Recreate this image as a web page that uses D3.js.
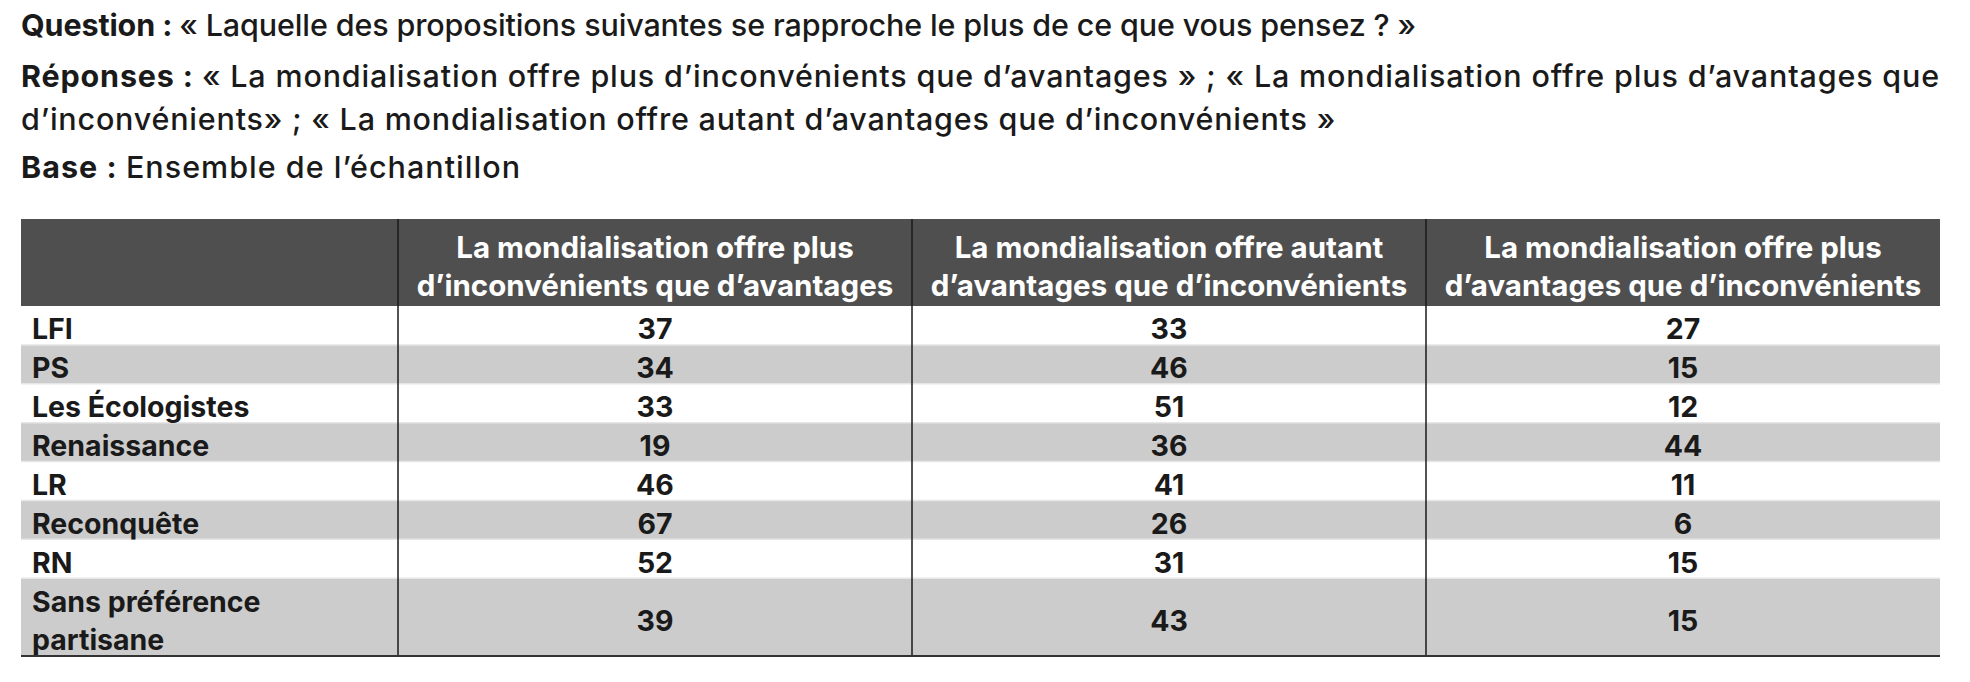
<!DOCTYPE html>
<html>
<head>
<meta charset="utf-8">
<script src="https://cdn.jsdelivr.net/npm/d3@7"></script>
<style>
  body { margin: 0; background: #fff; }
  svg { display: block; font-family: Inter, "Noto Sans", sans-serif; }
</style>
</head>
<body>
<div id="chart"></div>
<script>
// survey rows (parties) and answer columns
const rowLabels = [
  'LFI', 'PS', 'Les Écologistes', 'Renaissance', 'LR',
  'Reconquête', 'RN', 'Sans préférence\npartisane'
];
const colLabels = [
  'La mondialisation offre plus\nd’inconvénients que d’avantages',
  'La mondialisation offre autant\nd’avantages que d’inconvénients',
  'La mondialisation offre plus\nd’avantages que d’inconvénients'
];
const plusInconvenients = [37, 34, 33, 19, 46, 67, 52, 39];
const autantAvantages   = [33, 46, 51, 36, 41, 26, 31, 43];
const plusAvantages     = [27, 15, 12, 44, 11, 6, 15, 15];

// header text: [bold part, regular part] per line
const introLines = [
  ['Question : ', '« Laquelle des propositions suivantes se rapproche le plus de ce que vous pensez ? »'],
  ['Réponses : ', '« La mondialisation offre plus d’inconvénients que d’avantages » ; « La mondialisation offre plus d’avantages que'],
  ['', 'd’inconvénients» ; « La mondialisation offre autant d’avantages que d’inconvénients »'],
  ['Base : ', 'Ensemble de l’échantillon']
];

const W = 1970, H = 682;
const tableLeft = 21, tableRight = 1940, labelColRight = 398;
const headTop = 219, headBottom = 306, tableBottom = 656;
const lineGap = 38.5;

const series = [plusInconvenients, autantAvantages, plusAvantages];

const svg = d3.select('#chart')
  .append('svg')
    .attr('width', W)
    .attr('height', H);

// intro text, each line fitted to the width it has in the source layout
const introY = [36, 87, 130, 178];
const introEnd = [1416, 1940, 1336, 521];
svg.append('g')
  .selectAll('text')
  .data(introLines)
  .enter().append('text')
    .attr('x', tableLeft)
    .attr('y', (d, i) => introY[i])
    .attr('font-size', 30.5)
    .attr('fill', '#1a1a1a')
    .each(function (d, i) {
      const t = d3.select(this);
      if (d[0]) t.append('tspan').attr('font-weight', 700).text(d[0]);
      t.append('tspan').attr('font-weight', 500).text(d[1]);
      const len = this.getComputedTextLength();
      const chars = (d[0] + d[1]).length;
      t.attr('letter-spacing', (introEnd[i] - tableLeft - len) / chars);
    });

// scales
const x = d3.scaleBand()
  .domain(d3.range(colLabels.length))
  .range([labelColRight, tableRight]);

const units = rowLabels.map(l => l.split('\n').length);
const starts = [0, ...d3.cumsum(units)];
const y = d3.scaleLinear()
  .domain([0, d3.sum(units)])
  .range([headBottom, tableBottom]);

// header band
svg.append('rect')
  .attr('x', tableLeft)
  .attr('y', headTop)
  .attr('width', tableRight - tableLeft)
  .attr('height', headBottom - headTop)
  .attr('fill', '#4f4f4f');

svg.append('g')
  .selectAll('text')
  .data(colLabels)
  .enter().append('text')
    .attr('text-anchor', 'middle')
    .attr('font-size', 29.5)
    .attr('font-weight', 700)
    .attr('fill', '#fff')
    .each(function (d, i) {
      const lines = d.split('\n');
      const cy = (headTop + headBottom) / 2 + 4;
      d3.select(this).selectAll('tspan')
        .data(lines)
        .enter().append('tspan')
          .attr('x', x(i) + x.bandwidth() / 2)
          .attr('y', (l, j) => cy + (j - (lines.length - 1) / 2) * lineGap)
          .attr('dy', '0.35em')
          .text(l => l);
    });

// row backgrounds
svg.append('g')
  .selectAll('rect')
  .data(rowLabels)
  .enter().append('rect')
    .attr('x', tableLeft)
    .attr('y', (d, i) => y(starts[i]))
    .attr('width', tableRight - tableLeft)
    .attr('height', (d, i) => y(starts[i + 1]) - y(starts[i]))
    .attr('fill', (d, i) => i % 2 ? '#cccccc' : '#ffffff');

// thin separators between rows
svg.append('g')
  .selectAll('line')
  .data(d3.range(1, rowLabels.length))
  .enter().append('line')
    .attr('x1', tableLeft)
    .attr('x2', tableRight)
    .attr('y1', i => y(starts[i]))
    .attr('y2', i => y(starts[i]))
    .attr('stroke', '#e6e6e6')
    .attr('stroke-width', 1.5);

// row labels
svg.append('g')
  .selectAll('text')
  .data(rowLabels)
  .enter().append('text')
    .attr('font-size', 28.5)
    .attr('font-weight', 700)
    .attr('fill', '#1a1a1a')
    .each(function (d, i) {
      const lines = d.split('\n');
      const cy = (y(starts[i]) + y(starts[i + 1])) / 2 + 4;
      d3.select(this).selectAll('tspan')
        .data(lines)
        .enter().append('tspan')
          .attr('x', tableLeft + 11)
          .attr('y', (l, j) => cy + (j - (lines.length - 1) / 2) * lineGap)
          .attr('dy', '0.35em')
          .text(l => l);
    });

// values
series.forEach((vals, c) => {
  svg.append('g')
    .selectAll('text')
    .data(vals)
    .enter().append('text')
      .attr('x', x(c) + x.bandwidth() / 2)
      .attr('y', (d, i) => (y(starts[i]) + y(starts[i + 1])) / 2 + 4)
      .attr('dy', '0.35em')
      .attr('text-anchor', 'middle')
      .attr('font-size', 28.5)
      .attr('font-weight', 700)
      .attr('fill', '#1a1a1a')
      .text(d => d);
});

// vertical dividers
svg.append('g')
  .selectAll('line')
  .data(d3.range(colLabels.length))
  .enter().append('line')
    .attr('x1', i => x(i))
    .attr('x2', i => x(i))
    .attr('y1', headTop)
    .attr('y2', tableBottom)
    .attr('stroke', '#1a1a1a')
    .attr('stroke-width', 1.5);

// bottom rule
svg.append('line')
  .attr('x1', tableLeft)
  .attr('x2', tableRight)
  .attr('y1', tableBottom)
  .attr('y2', tableBottom)
  .attr('stroke', '#333')
  .attr('stroke-width', 2);
</script>
</body>
</html>
